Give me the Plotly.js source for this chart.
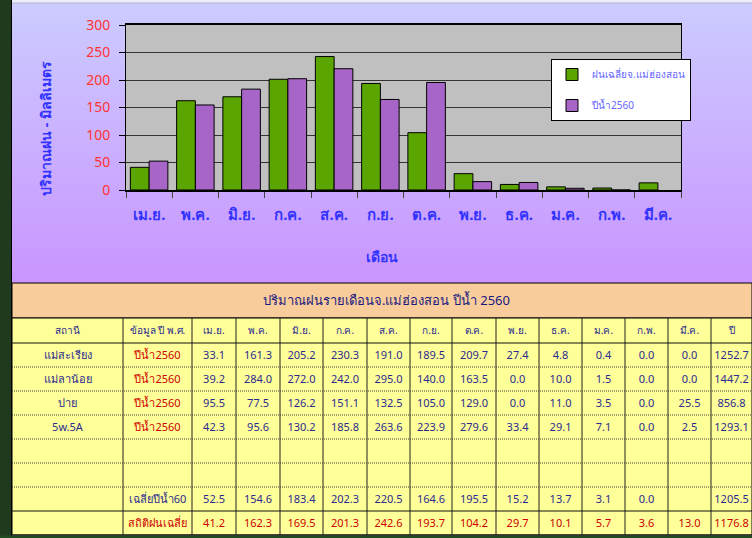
<!DOCTYPE html>
<html><head><meta charset="utf-8">
<script src="https://cdn.plot.ly/plotly-3.0.1.min.js"></script>
<style>html,body{margin:0;padding:0;background:#fff}#chart{width:752px;height:538px}</style>
</head><body><div id="chart"></div>
<script>
// ---- data ----
const months = ['เม.ย.','พ.ค.','มิ.ย.','ก.ค.','ส.ค.','ก.ย.','ต.ค.','พ.ย.','ธ.ค.','ม.ค.','ก.พ.','มี.ค.'];
const avgRain = [41.2,162.3,169.5,201.3,242.6,193.7,104.2,29.7,10.1,5.7,3.6,13.0];      // สถิติฝนเฉลี่ย
const year60  = [52.5,154.6,183.4,202.3,220.5,164.6,195.5,15.2,13.7,3.1,0.0,null];      // เฉลี่ยปีน้ำ60
const maeSariang = [33.1,161.3,205.2,230.3,191.0,189.5,209.7,27.4,4.8,0.4,0.0,0.0];
const maeLaNoi   = [39.2,284.0,272.0,242.0,295.0,140.0,163.5,0.0,10.0,1.5,0.0,0.0];
const pai        = [95.5,77.5,126.2,151.1,132.5,105.0,129.0,0.0,11.0,3.5,0.0,25.5];
const st5w5A     = [42.3,95.6,130.2,185.8,263.6,223.9,279.6,33.4,29.1,7.1,0.0,2.5];
const yearTotals = [1252.7,1447.2,856.8,1293.1,null,null,1205.5,1176.8];
const stationNames = ['แม่สะเรียง','แม่ลาน้อย','ปาย','5w.5A','','','',''];
const rowTypes = ['ปีน้ำ2560','ปีน้ำ2560','ปีน้ำ2560','ปีน้ำ2560','','','เฉลี่ยปีน้ำ60','สถิติฝนเฉลี่ย'];
const headerLabels = ['สถานี','ข้อมูล\u00a0ปี\u00a0พ.ศ.'].concat(months).concat(['ปี']);
const legendNames = ['ฝนเฉลี่ยจ.แม่ฮ่องสอน','ปีน้ำ2560'];
const tableTitle = 'ปริมาณฝนรายเดือนจ.แม่ฮ่องสอน ปีน้ำ 2560';
const yTitle = 'ปริมาณฝน - มิลลิเมตร';
const xTitle = 'เดือน';

// ---- build ----
const W = 752, H = 538;
const px = x => x / W, py = y => 1 - y / H;
const FONT = "Tahoma, 'Noto Sans', 'DejaVu Sans', sans-serif";
const NAVY = '#2b2b8f', RED = '#cc0000';
const fmt = v => (v === null || v === undefined) ? '' : v.toFixed(1);

const rowsData = [maeSariang, maeLaNoi, pai, st5w5A, null, null, year60, avgRain];
const cellCols = [stationNames, rowTypes];
const colorCols = [stationNames.map(() => NAVY), rowTypes.map((t, i) => (i < 4 || i === 7) ? RED : NAVY)];
for (let m = 0; m < months.length; m++) {
  cellCols.push(rowsData.map(r => r ? fmt(r[m]) : ''));
  colorCols.push(rowsData.map((r, i) => i === 7 ? RED : NAVY));
}
cellCols.push(yearTotals.map(fmt));
colorCols.push(yearTotals.map((v, i) => i === 7 ? RED : NAVY));

// table geometry (pixels)
const colW = [111,69,44,44,43,44,43,42,44,43,43,43,43,43,41];
const TBL_X0 = 12, TBL_TOP = 318, HEAD_H = 25, ROW_H = 24;
const nRows = rowTypes.length;
const TBL_BOT = TBL_TOP + HEAD_H + nRows * ROW_H;

const CLEAR = 'rgba(0,0,0,0)';
const traces = [
  {type:'bar', x: months, y: avgRain, name: legendNames[0], legendgroup:'a',
   marker:{color:'#5aa500', line:{color:'#000', width:1}}},
  {type:'bar', x: months, y: year60, name: legendNames[1], legendgroup:'b',
   marker:{color:'#a865c8', line:{color:'#000', width:1}}},
  {type:'table', domain:{x:[px(TBL_X0), 1], y:[py(TBL_BOT), py(TBL_TOP)]},
   columnwidth: colW,
   header:{values: headerLabels, align:'center', height: HEAD_H,
     fill:{color: CLEAR}, line:{color: CLEAR, width:1},
     font:{family: FONT, size:10, color: NAVY}},
   cells:{values: cellCols, align:'center', height: ROW_H,
     fill:{color: CLEAR}, line:{color: CLEAR, width:1},
     font:{family: FONT, size:11, color: colorCols}}}
];

const svg = "<svg xmlns='http://www.w3.org/2000/svg' width='10' height='100' viewBox='0 0 10 100' preserveAspectRatio='none'>" +
  "<defs><linearGradient id='g' x1='0' y1='0' x2='0' y2='1'><stop offset='0' stop-color='#ccccff'/>" +
  "<stop offset='1' stop-color='#c995ff'/></linearGradient></defs><rect width='10' height='100' fill='url(#g)'/></svg>";

const shapes = [
  {type:'rect', xref:'x domain', yref:'y domain', x0:0, x1:1, y0:0, y1:1,
   fillcolor:'#c0c0c0', line:{width:0}, layer:'below'},
  {type:'rect', xref:'paper', yref:'paper', x0:0, x1:1, y0:py(3), y1:1,
   fillcolor:'#ecebfb', line:{width:0}, layer:'below'},
  {type:'line', xref:'paper', yref:'paper', x0:0, x1:1, y0:py(3), y1:py(3),
   line:{color:'#b5b5c8', width:1}},
  {type:'rect', xref:'paper', yref:'paper', x0:px(TBL_X0), x1:1, y0:py(TBL_TOP), y1:py(283),
   fillcolor:'#f9cd9b', line:{color:'#000', width:1}, layer:'below'},
  {type:'rect', xref:'paper', yref:'paper', x0:px(TBL_X0), x1:1, y0:py(TBL_BOT), y1:py(TBL_TOP),
   fillcolor:'#ffff99', line:{color:'#000', width:1}, layer:'below'}
];
// vertical grid lines of the table
let xx = TBL_X0;
for (let c = 0; c < colW.length; c++) {
  if (c > 0) shapes.push({type:'line', xref:'paper', yref:'paper', x0:px(xx), x1:px(xx),
    y0:py(TBL_TOP), y1:py(TBL_BOT), line:{color:'#222', width:1}, layer:'below'});
  xx += colW[c];
}
// horizontal grid lines (dotted between data rows)
for (let r = 0; r <= nRows; r++) {
  const y = TBL_TOP + HEAD_H + r * ROW_H;
  const solid = (r === 0 || r === nRows - 1 || r === nRows);
  shapes.push({type:'line', xref:'paper', yref:'paper', x0:px(TBL_X0), x1:1, y0:py(y), y1:py(y),
    line:{color: solid ? '#111' : '#444', width:1, dash: solid ? 'solid' : '1px,1px'}, layer:'below'});
}
shapes.push(
  {type:'rect', xref:'paper', yref:'paper', x0:0, x1:px(11), y0:0, y1:1,
   fillcolor:'#1f3a1f', line:{width:0}},
  {type:'line', xref:'paper', yref:'paper', x0:px(11.5), x1:px(11.5), y0:0, y1:1,
   line:{color:'#000', width:1}},
  {type:'rect', xref:'paper', yref:'paper', x0:0, x1:1, y0:0, y1:py(TBL_BOT + 0.5),
   fillcolor:'#1f4a1f', line:{width:0}}
);

const layout = {
  width: W, height: H, margin:{l:0, r:0, t:0, b:0},
  paper_bgcolor:'#c995ff', plot_bgcolor:'#c0c0c0',
  font:{family: FONT},
  barmode:'group', bargap:0.19, bargroupgap:0,
  showlegend:true,
  xaxis:{domain:[px(126), px(681)], type:'category', fixedrange:true,
    tickfont:{family: FONT, size:15, color:'#3333ff', weight:'bold'},
    ticks:'outside', tickson:'boundaries', ticklen:6, tickcolor:'#444',
    showline:true, linecolor:'#000', linewidth:2, mirror:true, ticklabelstandoff:10},
  yaxis:{domain:[py(190), py(25)], range:[0,300], dtick:50, fixedrange:true,
    tickfont:{family: FONT, size:14, color:'#ff3333'},
    ticks:'outside', ticklen:6, tickcolor:'#000',
    gridcolor:'#333', gridwidth:1, zeroline:false,
    showline:true, linecolor:'#000', linewidth:1, mirror:true, ticklabelstandoff:6},
  legend:{x: px(551), y: py(59), xanchor:'left', yanchor:'top',
    bgcolor:'#ffffff', bordercolor:'#000', borderwidth:1,
    font:{family: FONT, size:10, color:'#6666ff'}, tracegroupgap:12, traceorder:'grouped',
    itemwidth:30},
  images:[{source:'data:image/svg+xml;charset=utf-8,' + encodeURIComponent(svg),
    xref:'paper', yref:'paper', x:0, y:1, sizex:1, sizey:283/H,
    xanchor:'left', yanchor:'top', sizing:'stretch', layer:'below'}],
  shapes: shapes,
  annotations:[
    {text: tableTitle, xref:'paper', yref:'paper', x: px(386), y: py(300), showarrow:false,
     xanchor:'center', yanchor:'middle', font:{family: FONT, size:13, color:'#1a1a80'}},
    {text: yTitle, xref:'paper', yref:'paper', x: px(45), y: py(129), showarrow:false, textangle:-90,
     xanchor:'center', yanchor:'middle', font:{family: FONT, size:14, color:'#3333ff', weight:'bold'}},
    {text: xTitle, xref:'paper', yref:'paper', x: px(382), y: py(257), showarrow:false,
     xanchor:'center', yanchor:'middle', font:{family: FONT, size:14, color:'#3333ff', weight:'bold'}}
  ]
};

Plotly.newPlot('chart', traces, layout, {displayModeBar:false, staticPlot:true});
</script></body></html>
